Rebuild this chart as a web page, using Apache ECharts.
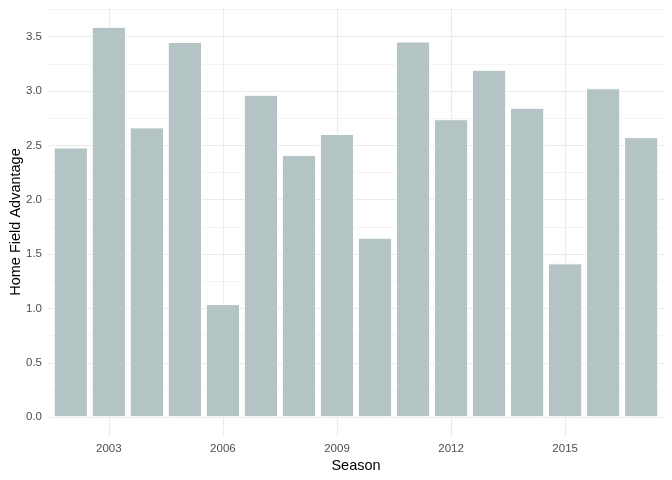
<!DOCTYPE html>
<html>
<head>
<meta charset="utf-8">
<script src="https://cdn.jsdelivr.net/npm/echarts@6/dist/echarts.min.js"></script>
<style>
html,body{margin:0;padding:0;background:#fff;}
#chart{width:672px;height:480px;}
</style>
</head>
<body>
<div id="chart"></div>
<script>
var seasons = [2002, 2003, 2004, 2005, 2006, 2007, 2008, 2009, 2010, 2011, 2012, 2013, 2014, 2015, 2016, 2017];
var homeAdv = [2.48, 3.59, 2.665, 3.45, 1.04, 2.965, 2.41, 2.605, 1.65, 3.455, 2.74, 3.195, 2.845, 1.415, 3.025, 2.575];
var xTicks = [2003, 2006, 2009, 2012, 2015];
var yTicks = [0, 0.5, 1, 1.5, 2, 2.5, 3, 3.5];
var yMinorTicks = [0.25, 0.75, 1.25, 1.75, 2.25, 2.75, 3.25, 3.75];

var xMin = seasons[0] - 0.6, xMax = seasons[seasons.length - 1] + 0.6;
var yMaxData = Math.max.apply(null, homeAdv);
var yMin = -0.05 * yMaxData, yMax = yMaxData * 1.05;

var font = 'Liberation Sans, Arial, Helvetica, sans-serif';
var chart = echarts.init(document.getElementById('chart'), null, {renderer: 'canvas'});
chart.setOption({
  animation: false,
  backgroundColor: '#ffffff',
  grid: {left: 48, right: 8, top: 7.3, bottom: 43.3, containLabel: false, outerBoundsMode: 'none'},
  xAxis: [{
    type: 'value', min: xMin, max: xMax,
    name: 'Season', nameLocation: 'middle', nameGap: 22, nameMoveOverlap: false,
    nameTextStyle: {color: '#000', fontSize: 14.5, fontFamily: font},
    axisLine: {show: false},
    axisTick: {show: false, customValues: xTicks},
    axisLabel: {customValues: xTicks, color: '#4d4d4d', fontSize: 11.5, fontFamily: font, margin: 6,
      formatter: function (v) { return String(v); }},
    splitLine: {show: true, lineStyle: {color: '#ebebeb', width: 1.1}}
  }],
  yAxis: [{
    type: 'value', min: yMin, max: yMax,
    name: 'Home Field Advantage', nameLocation: 'middle', nameGap: 25, nameMoveOverlap: false,
    nameTextStyle: {color: '#000', fontSize: 14.5, fontFamily: font},
    axisLine: {show: false},
    axisTick: {show: false, customValues: yTicks},
    axisLabel: {customValues: yTicks, color: '#4d4d4d', fontSize: 11.5, fontFamily: font, margin: 6,
      formatter: function (v) { return v.toFixed(1); }},
    splitLine: {show: true, lineStyle: {color: '#ebebeb', width: 1.1}}
  }, {
    type: 'value', min: yMin, max: yMax, position: 'left',
    axisLine: {show: false},
    axisTick: {show: false, customValues: yMinorTicks},
    axisLabel: {show: false, customValues: yMinorTicks},
    splitLine: {show: true, lineStyle: {color: '#ebebeb', width: 0.55}}
  }],
  series: [{
    type: 'bar',
    xAxisIndex: 0, yAxisIndex: 0,
    barWidth: '90%',
    data: seasons.map(function (s, i) { return [s, homeAdv[i]]; }),
    itemStyle: {color: '#b4c3c3', borderColor: '#ffffff', borderWidth: 1}
  }]
});
</script>
</body>
</html>
